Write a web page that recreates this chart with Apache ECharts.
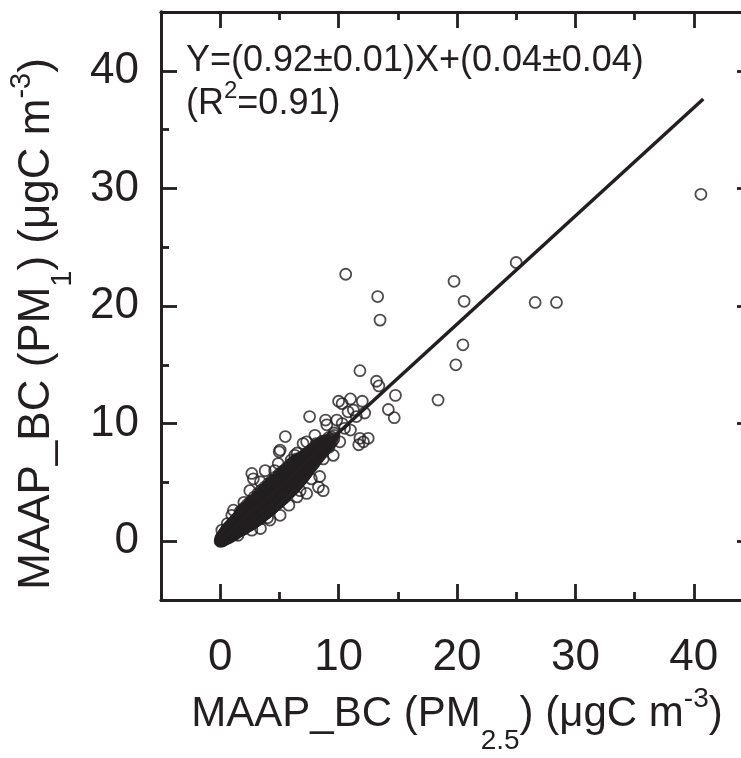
<!DOCTYPE html>
<html><head><meta charset="utf-8">
<script src="https://cdn.jsdelivr.net/npm/echarts@6/dist/echarts.min.js"></script>
<style>html,body{margin:0;padding:0;background:#fff;overflow:hidden}#c{width:770px;height:758px}</style>
</head><body><div id="c"></div>
<script>
// ---- data ----
const axisMin = -5, axisMax = 45;
const majorTicks = [0, 10, 20, 30, 40];
const minorTicks = [5, 15, 25, 35];
const fitLineX = [0, 40.8];
const fitLineY = [0.04, 37.6];
const fitText = 'Y=(0.92±0.01)X+(0.04±0.04)';
const r2Text = '0.91';

// dense core of the scatter (MAAP_BC PM2.5, MAAP_BC PM1)
const corePoints = [
[0.0,0.0],[0.02,0.06],[0.05,0.02],[0.06,0.13],[0.05,0.25],[0.1,0.0],[0.11,0.16],[0.1,0.31],[0.15,0.08],[0.16,0.21],[0.14,0.36],[0.2,0.05],[0.21,0.23],[0.19,0.41],
[0.3,0.1],[0.29,0.28],[0.31,0.46],[0.3,0.62],[0.4,0.16],[0.41,0.35],[0.39,0.56],[0.42,0.76],[0.5,0.21],[0.52,0.45],[0.49,0.66],[0.51,0.9],
[0.6,0.26],[0.61,0.51],[0.59,0.8],[0.62,1.05],[0.75,0.31],[0.74,0.6],[0.76,0.86],[0.75,1.2],[0.9,0.41],[0.91,0.7],[0.89,1.0],[0.92,1.36],
[1.05,0.5],[1.04,0.85],[1.06,1.12],[1.05,1.5],[1.2,0.56],[1.21,0.95],[1.19,1.26],[1.22,1.7],[1.35,0.7],[1.34,1.06],[1.36,1.41],[1.35,1.86],
[1.5,0.8],[1.51,1.16],[1.49,1.55],[1.52,2.01],[1.65,0.86],[1.66,1.3],[1.64,1.71],[1.65,2.15],[1.67,2.5],[1.8,0.95],[1.81,1.41],[1.79,1.86],[1.82,2.3],
[1.95,1.05],[1.96,1.51],[1.94,2.0],[1.95,2.46],[1.97,2.8],[2.1,1.11],[2.11,1.6],[2.09,2.11],[2.12,2.6],[2.25,1.25],[2.26,1.76],[2.24,2.21],[2.25,2.7],[2.27,3.1],
[2.4,1.31],[2.41,1.86],[2.39,2.35],[2.42,2.86],[2.55,1.4],[2.56,1.96],[2.54,2.5],[2.55,3.01],[2.57,3.4],[2.7,1.5],[2.71,2.06],[2.69,2.61],[2.72,3.1],
[2.85,1.61],[2.86,2.2],[2.84,2.76],[2.85,3.3],[2.87,3.75],[3.0,1.7],[3.01,2.31],[2.99,2.86],[3.02,3.4],[3.15,1.81],[3.16,2.45],[3.14,3.01],[3.15,3.55],[3.17,4.05],
[3.3,1.95],[3.31,2.56],[3.29,3.1],[3.32,3.7],[3.45,2.05],[3.46,2.66],[3.44,3.25],[3.45,3.86],[3.47,4.35],[3.6,2.16],[3.61,2.8],[3.59,3.41],[3.62,3.95],
[3.75,2.3],[3.76,2.91],[3.74,3.5],[3.75,4.11],[3.77,4.6],[3.9,2.41],[3.91,3.05],[3.89,3.66],[3.92,4.25],[4.05,2.55],[4.06,3.16],[4.04,3.8],[4.05,4.41],[4.07,4.9],
[4.2,2.66],[4.21,3.3],[4.19,3.91],[4.22,4.55],[4.35,2.8],[4.36,3.41],[4.34,4.05],[4.35,4.7],[4.37,5.15],[4.5,2.91],[4.51,3.55],[4.49,4.2],[4.52,4.8],
[4.65,3.05],[4.66,3.7],[4.64,4.31],[4.65,4.95],[4.67,5.45],[4.8,3.16],[4.81,3.8],[4.79,4.46],[4.82,5.1],[4.95,3.3],[4.96,3.96],[4.94,4.6],[4.95,5.25],[4.97,5.7],
[5.1,3.45],[5.11,4.1],[5.09,4.76],[5.12,5.35],[5.25,3.56],[5.26,4.2],[5.24,4.85],[5.25,5.5],[5.27,5.95],[5.4,3.7],[5.41,4.36],[5.39,5.0],[5.42,5.65],
[5.55,3.86],[5.56,4.5],[5.54,5.15],[5.55,5.8],[5.57,6.2],[5.7,4.0],[5.71,4.61],[5.69,5.3],[5.72,5.9],[5.85,4.16],[5.86,4.75],[5.84,5.41],[5.85,6.05],[5.87,6.5],
[6.0,4.3],[6.01,4.91],[5.99,5.55],[6.02,6.2],[6.15,4.46],[6.16,5.05],[6.14,5.71],[6.15,6.3],[6.17,6.75],[6.3,4.6],[6.31,5.2],[6.29,5.8],[6.32,6.46],
[6.45,4.8],[6.46,5.36],[6.44,5.95],[6.45,6.6],[6.47,7.0],[6.6,4.96],[6.61,5.5],[6.59,6.11],[6.62,6.7],[6.75,5.15],[6.76,5.66],[6.74,6.25],[6.75,6.86],
[6.9,5.3],[6.91,5.8],[6.89,6.41],[6.92,7.0],[7.05,5.5],[7.06,6.0],[7.04,6.56],[7.05,7.1],[7.2,5.7],[7.21,6.16],[7.19,6.7],[7.22,7.26],
[7.35,5.9],[7.36,6.36],[7.34,6.85],[7.35,7.41],[7.5,6.1],[7.51,6.5],[7.49,7.01],[7.52,7.5],[7.7,6.35],[7.71,6.76],[7.69,7.2],[7.72,7.66],
[7.9,6.6],[7.91,7.0],[7.89,7.41],[7.92,7.8],[8.1,6.9],[8.11,7.26],[8.09,7.6],[8.12,8.0],[8.3,7.15],[8.31,7.5],[8.29,7.81],[8.32,8.15],
[8.5,7.4],[8.51,7.76],[8.49,8.05],[8.52,8.36],[8.75,7.7],[8.76,8.06],[8.74,8.35],[9.0,8.0],[9.01,8.3],[8.99,8.6],[9.3,8.35],[9.31,8.66],[9.6,8.7],[9.61,9.0]
];

// more points read inside the solid core
const coreFillPoints = [
[0.08,0.07],[0.08,0.19],[0.13,0.08],[0.13,0.24],[0.18,0.14],[0.18,0.29],[0.25,0.14],[0.25,0.32],[0.25,0.5],
[0.35,0.19],[0.35,0.37],[0.35,0.54],[0.35,0.7],[0.45,0.25],[0.45,0.45],[0.45,0.66],[0.45,0.85],[0.55,0.33],[0.55,0.55],[0.55,0.78],[0.55,1.0],
[0.68,0.38],[0.68,0.66],[0.68,0.93],[0.68,1.15],[0.82,0.45],[0.82,0.73],[0.82,1.03],[0.82,1.3],[0.97,0.55],[0.97,0.85],[0.97,1.18],[0.97,1.45],
[1.12,0.62],[1.12,0.98],[1.12,1.3],[1.12,1.62],[1.27,0.68],[1.27,1.1],[1.27,1.48],[1.27,1.8],[1.42,0.8],[1.42,1.23],[1.42,1.63],[1.42,1.95],
[1.57,0.88],[1.57,1.35],[1.57,1.78],[1.57,2.12],[1.72,0.95],[1.72,1.5],[1.72,1.93],[1.72,2.35],[1.87,1.0],[1.87,1.63],[1.87,2.08],[1.87,2.55],
[2.02,1.1],[2.02,1.75],[2.02,2.23],[2.02,2.65],[2.17,1.2],[2.17,1.85],[2.17,2.36],[2.17,2.85],[2.32,1.3],[2.32,2.0],[2.32,2.48],[2.32,2.95],
[2.47,1.38],[2.47,2.1],[2.47,2.62],[2.47,3.15],[2.62,1.47],[2.62,2.25],[2.62,2.76],[2.62,3.25],[2.77,1.57],[2.77,2.35],[2.77,2.9],[2.77,3.45],
[2.92,1.67],[2.92,2.5],[2.92,3.05],[2.92,3.55],[3.07,1.76],[3.07,2.6],[3.07,3.15],[3.07,3.7],[3.22,1.88],[3.22,2.75],[3.22,3.3],[3.22,3.85],
[3.37,2.0],[3.37,2.85],[3.37,3.42],[3.37,4.0],[3.52,2.1],[3.52,2.95],[3.52,3.55],[3.52,4.15],[3.67,2.22],[3.67,3.1],[3.67,3.7],[3.67,4.3],
[3.82,2.35],[3.82,3.2],[3.82,3.82],[3.82,4.45],[3.97,2.47],[3.97,3.35],[3.97,3.95],[3.97,4.6],[4.12,2.6],[4.12,3.48],[4.12,4.1],[4.12,4.72],
[4.27,2.72],[4.27,3.6],[4.27,4.22],[4.27,4.9],[4.42,2.85],[4.42,3.72],[4.42,4.38],[4.42,5.0],[4.57,2.97],[4.57,3.87],[4.57,4.5],[4.57,5.15],
[4.72,3.1],[4.72,4.0],[4.72,4.62],[4.72,5.28],[4.87,3.22],[4.87,4.12],[4.87,4.78],[4.87,5.45],[5.02,3.36],[5.02,4.28],[5.02,4.92],[5.02,5.55],
[5.17,3.5],[5.17,4.42],[5.17,5.05],[5.17,5.7],[5.32,3.62],[5.32,4.52],[5.32,5.18],[5.32,5.82],[5.47,3.76],[5.47,4.68],[5.47,5.32],[5.47,5.98],
[5.62,3.92],[5.62,4.8],[5.62,5.48],[5.62,6.1],[5.77,4.07],[5.77,4.95],[5.77,5.6],[5.77,6.25],[5.92,4.22],[5.92,5.08],[5.92,5.75],[5.92,6.4],
[6.07,4.37],[6.07,5.22],[6.07,5.88],[6.07,6.52],[6.22,4.52],[6.22,5.38],[6.22,6.0],[6.22,6.62],[6.37,4.7],[6.37,5.5],[6.37,6.12],[6.37,6.8],
[6.52,4.87],[6.52,5.65],[6.52,6.28],[6.52,6.9],[6.67,5.05],[6.67,5.8],[6.67,6.4],[6.67,7.0],[6.82,5.22],[6.82,5.95],[6.82,6.55],[6.82,7.1],
[6.97,5.4],[6.97,6.1],[6.97,6.7],[6.97,7.2],[7.12,5.6],[7.12,6.28],[7.12,6.82],[7.12,7.3],[7.27,5.8],[7.27,6.42],[7.27,6.98],[7.27,7.45],
[7.42,6.0],[7.42,6.6],[7.42,7.12],[7.42,7.55],[7.6,6.22],[7.6,6.75],[7.6,7.25],[7.6,7.7],[7.8,6.48],[7.8,6.98],[7.8,7.42],[7.8,7.85],
[8.0,6.75],[8.0,7.2],[8.0,7.6],[8.0,8.0],[8.2,7.02],[8.2,7.42],[8.2,7.8],[8.2,8.2],[8.4,7.28],[8.4,7.65],[8.4,8.0],[8.4,8.3],
[8.62,7.55],[8.62,7.9],[8.62,8.2],[8.62,8.5],[8.88,7.85],[8.88,8.18],[8.88,8.5],[9.15,8.15],[9.15,8.5],[9.15,8.8],[9.45,8.5],[9.45,8.85]
];

// scattered points around the core and the isolated outliers
const outlierPoints = [
[10.6,22.7],[13.3,20.8],[13.5,18.8],[19.75,22.1],[20.6,20.4],[25.0,23.7],[26.6,20.3],[28.4,20.3],[20.5,16.7],[19.9,15.0],
[18.4,12.0],[11.8,14.5],[13.2,13.6],[13.4,13.2],[14.8,12.4],[14.2,11.2],[14.7,10.5],[40.6,29.5],
[10.0,11.9],[10.3,11.7],[11.0,12.1],[12.0,11.9],[7.55,10.6],[8.9,10.3],[9.0,9.9],[9.85,10.3],[10.8,11.0],[11.25,11.15],[10.3,10.0],
[11.0,9.45],[11.8,8.75],[12.1,8.45],[12.5,8.75],[11.7,8.2],[5.5,8.9],[7.3,8.45],[8.0,9.0],[10.1,8.45],[5.06,7.75],[6.5,7.5],[9.55,7.3],
[8.7,7.0],[8.4,5.5],[4.6,6.0],[7.7,5.3],[8.3,4.6],[4.98,7.6],[6.3,7.3],[7.0,8.3],[2.67,5.76],[2.8,5.3],[3.4,5.05],[1.12,2.64],[0.98,2.2],
[2.5,4.3],[0.14,0.94],[3.4,1.08],[2.67,0.94],[5.06,2.2],[5.8,3.06],[6.5,3.77],[6.75,4.3],[7.3,4.06],[4.2,1.8],[3.4,1.9],[1.83,2.64],
[3.8,6.0],[4.9,6.6],[8.7,4.3],[12.2,10.9],[9.6,9.2],[10.5,9.6],[11.5,10.6],[9.2,8.0],[8.1,8.3],[0.6,1.5],[1.5,0.5],[2.0,3.3],[4.0,2.0],[6.0,6.9]
];

// ---- styling ----
const INK = '#231f20';
const FONT = '"Liberation Sans", Arial, Helvetica, sans-serif';
const LINE_W = 2.8;

function makeAxis(position, ticks, tickLen, withLabels, extra) {
  return Object.assign({
    type: 'value', position: position, min: axisMin, max: axisMax,
    splitLine: { show: false },
    axisLine: { show: true, onZero: false, lineStyle: { color: INK, width: LINE_W } },
    axisTick: { show: true, inside: true, length: tickLen, customValues: ticks,
                lineStyle: { color: INK, width: LINE_W } },
    axisLabel: withLabels
      ? { show: true, customValues: majorTicks, fontFamily: FONT, fontSize: 44, color: INK, margin: 36 }
      : { show: false }
  }, extra || {});
}

function richName(size, subSize) {
  return {
    a: { fontFamily: FONT, fontSize: size, color: INK, lineHeight: 80 },
    sub: { fontFamily: FONT, fontSize: subSize, color: INK, verticalAlign: 'bottom' },
    sup: { fontFamily: FONT, fontSize: subSize, color: INK, verticalAlign: 'top', padding: [10, 0, 0, 0] }
  };
}

const xAxes = [
  makeAxis('bottom', majorTicks, 16, true, {
    name: '{a|MAAP_BC (PM}{sub|2.5}{a|) (μgC m}{sup|-3}{a|)}',
    nameLocation: 'middle', nameGap: 74, nameTextStyle: { rich: richName(42, 28) }
  }),
  makeAxis('bottom', minorTicks, 8, false),
  makeAxis('top', majorTicks, 16, false),
  makeAxis('top', minorTicks, 8, false)
];
const yLeft = makeAxis('left', majorTicks, 16, true, {
  name: '{a|MAAP_BC (PM}{sub|1}{a|) (μgC m}{sup|-3}{a|)}',
  nameLocation: 'middle', nameRotate: 90, nameGap: 84,
  nameTextStyle: { rich: richName(44, 29), padding: [0, 36, 0, 0] }
});
yLeft.axisLabel.margin = 22;
const yAxes = [
  yLeft,
  makeAxis('left', minorTicks, 8, false),
  makeAxis('right', majorTicks, 16, false),
  makeAxis('right', minorTicks, 8, false)
];

const chart = echarts.init(document.getElementById('c'), null, { renderer: 'canvas' });
chart.setOption({
  animation: false,
  backgroundColor: '#ffffff',
  grid: { left: 161, top: 12, width: 592, height: 588, containLabel: false, outerBoundsMode: 'none' },
  xAxis: xAxes,
  yAxis: yAxes,
  graphic: [
    { type: 'text', x: 186, y: 61, silent: true,
      style: { text: fitText, fontFamily: FONT, fontSize: 36, fill: INK, verticalAlign: 'middle', align: 'left' } },
    { type: 'text', x: 186, y: 104, silent: true,
      style: { text: '{a|(R}{p|2}{a|=' + r2Text + ')}', verticalAlign: 'middle', align: 'left',
        rich: {
          a: { fontFamily: FONT, fontSize: 36, fill: INK, color: INK, lineHeight: 50 },
          p: { fontFamily: FONT, fontSize: 24, fill: INK, color: INK, lineHeight: 26, verticalAlign: 'top' }
        } } }
  ],
  series: [
    {
      type: 'scatter', xAxisIndex: 0, yAxisIndex: 0,
      data: corePoints.concat(coreFillPoints, outlierPoints),
      symbol: 'circle', symbolSize: 11,
      itemStyle: { color: 'rgba(0,0,0,0)', borderColor: INK, borderWidth: 1.8 },
      emphasis: { disabled: true }, z: 2
    },
    {
      type: 'line', xAxisIndex: 0, yAxisIndex: 0,
      data: fitLineX.map((x, i) => [x, fitLineY[i]]),
      symbol: 'none', lineStyle: { color: INK, width: 3.5 }, z: 3, silent: true
    }
  ]
});
</script></body></html>
